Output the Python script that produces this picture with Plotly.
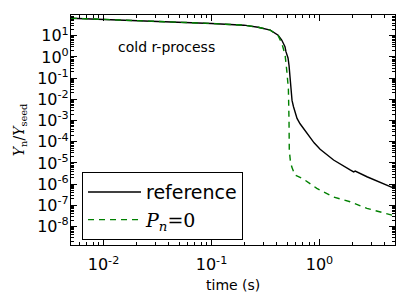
import plotly.graph_objects as go
import numpy as np

# reference curve (time in s, Yn/Yseed)
t_ref = [0.005, 0.03, 0.1, 0.2, 0.27, 0.35, 0.373, 0.414, 0.447, 0.479, 0.489, 0.511,
         0.522, 0.533, 0.545, 0.5566, 0.5745, 0.5934, 0.6194, 0.6607, 0.7195, 0.7885,
         0.891, 1.013, 1.35, 1.92, 2.07, 2.14, 2.75, 4.69, 5.0]
y_ref = [67.6, 49.0, 38.0, 31.6, 25.1, 18.6, 15.5, 10.7, 6.31, 3.02, 1.78, 0.891,
         0.398, 0.1, 0.0251, 8.91e-3, 4.47e-3, 2.51e-3, 1.26e-3, 7.08e-4, 3.98e-4, 2.0e-4,
         8.91e-5, 4.47e-5, 1.38e-5, 4.68e-6, 3.8e-6, 4.17e-6, 2.24e-6, 7.08e-7, 6.31e-7]

# Pn = 0 curve
t_pn0 = [0.005, 0.03, 0.1, 0.2, 0.27, 0.35, 0.414, 0.447, 0.48, 0.497, 0.515, 0.522,
         0.525, 0.537, 0.553, 0.593, 0.71, 0.944, 1.34, 1.92, 2.75, 4.69, 5.0]
y_pn0 = [67.6, 49.0, 38.0, 31.6, 25.1, 18.6, 10.0, 4.57, 1.26, 0.24, 0.0316, 1.0e-3,
         4.0e-5, 1.26e-5, 6.6e-6, 2.7e-6, 1.74e-6, 6.3e-7, 2.5e-7, 1.48e-7, 7.2e-8,
         3.47e-8, 3.2e-8]

x_range = [0.005, 5.0]
y_range = [10 ** -8.87, 10 ** 1.98]

x_ticks = [0.01, 0.1, 1]
x_ticktext = ["10<sup>-2</sup>", "10<sup>-1</sup>", "10<sup>0</sup>"]
y_ticks = [10, 1, 0.1, 1e-2, 1e-3, 1e-4, 1e-5, 1e-6, 1e-7, 1e-8]
y_ticktext = ["10<sup>1</sup>", "10<sup>0</sup>", "10<sup>-1</sup>", "10<sup>-2</sup>",
              "10<sup>-3</sup>", "10<sup>-4</sup>", "10<sup>-5</sup>", "10<sup>-6</sup>",
              "10<sup>-7</sup>", "10<sup>-8</sup>"]
minor_mult = [2, 3, 4, 5, 6, 7, 8, 9]
x_minor = [m * 10.0 ** e for e in range(-3, 1) for m in minor_mult]
y_minor = [m * 10.0 ** e for e in range(-9, 2) for m in minor_mult]

fig = go.Figure()
fig.add_trace(go.Scatter(x=t_ref, y=y_ref, mode="lines", name="reference",
                         line=dict(color="black", width=1.4)))
fig.add_trace(go.Scatter(x=t_pn0, y=y_pn0, mode="lines",
                         name="<span style='font-family:DejaVu Serif'><i>P</i><sub><i>n</i></sub>=0</span>",
                         line=dict(color="#008000", width=1.4, dash="6px,5px")))

axis_common = dict(
    type="log", showgrid=False, zeroline=False, showline=True, linecolor="black",
    linewidth=1.2, mirror="allticks", ticks="inside", ticklen=6, tickwidth=1,
    tickcolor="black", automargin=False,
    tickfont=dict(family="DejaVu Sans", size=16, color="black"),
)

fig.update_xaxes(range=[np.log10(x_range[0]), np.log10(x_range[1])],
                 tickvals=x_ticks, ticktext=x_ticktext, ticklabelstandoff=5,
                 minor=dict(tickvals=x_minor, ticks="inside", ticklen=3, tickcolor="black",
                            showgrid=False),
                 **axis_common)
fig.update_yaxes(range=[np.log10(y_range[0]), np.log10(y_range[1])],
                 tickvals=y_ticks, ticktext=y_ticktext, ticklabelstandoff=-2,
                 minor=dict(tickvals=y_minor, ticks="inside", ticklen=3, tickcolor="black",
                            showgrid=False),
                 **axis_common)

fig.add_annotation(text="<i>Y</i><sub>n</sub>/<i>Y</i><sub>seed</sub>", xref="paper", yref="paper",
                   x=-0.157, y=0.5, xanchor="center", yanchor="middle",
                   showarrow=False, textangle=-90,
                   font=dict(family="DejaVu Serif", size=14, color="black"))
fig.add_annotation(text="time (s)", xref="paper", yref="paper", x=0.5, y=-0.175,
                   xanchor="center", yanchor="middle", showarrow=False,
                   font=dict(family="DejaVu Sans", size=14, color="black"))
fig.add_annotation(text="cold r-process", xref="paper", yref="paper", x=0.296, y=0.861,
                   xanchor="center", yanchor="middle", showarrow=False,
                   font=dict(family="DejaVu Sans", size=14, color="black"))

fig.update_layout(
    width=407, height=288,
    margin=dict(l=63, r=20, t=7, b=51),
    paper_bgcolor="white", plot_bgcolor="white",
    legend=dict(x=0.034, y=0.317, xanchor="left", yanchor="top",
                bordercolor="black", borderwidth=1, bgcolor="white", itemwidth=53,
                font=dict(family="DejaVu Sans", size=19, color="black")),
)

fig.write_html("out.html")
